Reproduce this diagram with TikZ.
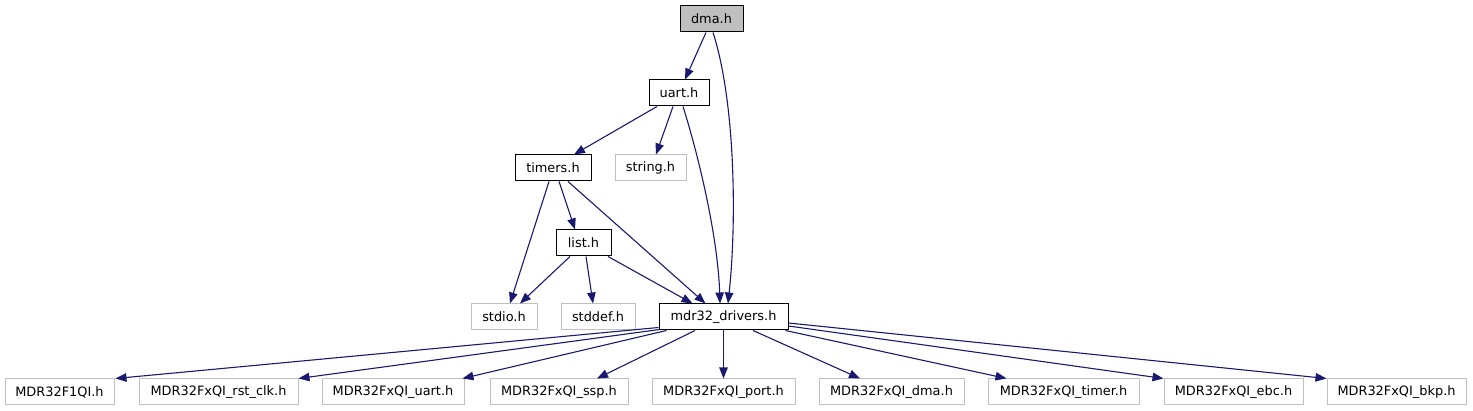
\documentclass[tikz,border=0pt]{standalone}
\usepackage{fontspec}
\setmainfont{DejaVu Sans}
\usetikzlibrary{calc,arrows.meta}
\definecolor{edgeblue}{RGB}{25,25,112}
\definecolor{lightbord}{RGB}{191,191,191}
\definecolor{selfill}{RGB}{191,191,191}
\begin{document}
\begin{tikzpicture}[x=1pt,y=-1pt,
  box/.style={draw=black,line width=1pt,minimum height=26pt,inner sep=0pt,font=\fontsize{12.9}{15}\selectfont,text=black},
  doc/.style={box},
  ext/.style={box,draw=lightbord},
  e/.style={draw=edgeblue,line width=1.1pt,-{Triangle[length=11pt,width=8.5pt]}}]
\useasboundingbox (0,0) rectangle (1473,411);
\node[doc,fill=selfill,minimum width=63pt] (dma) at (711.5,19) {dma.h};
\node[doc,minimum width=60pt] (uart) at (679,93) {uart.h};
\node[doc,minimum width=76pt] (timers) at (553,168) {timers.h};
\node[ext,minimum width=71pt] (string) at (650.5,168) {string.h};
\node[doc,minimum width=55pt] (list) at (583.5,243) {list.h};
\node[ext,minimum width=66pt] (stdio) at (504,317) {stdio.h};
\node[ext,minimum width=74pt] (stddef) at (598,317) {stddef.h};
\node[doc,minimum width=129pt] (mdr) at (723.5,317) {mdr32\_drivers.h};
\node[ext,minimum width=109pt] (f1) at (59.5,392) {MDR32F1QI.h};
\node[ext,minimum width=159pt] (rst) at (218.5,392) {MDR32FxQI\_rst\_clk.h};
\node[ext,minimum width=142pt] (uartq) at (393,392) {MDR32FxQI\_uart.h};
\node[ext,minimum width=138pt] (ssp) at (559,392) {MDR32FxQI\_ssp.h};
\node[ext,minimum width=143pt] (port) at (723.5,392) {MDR32FxQI\_port.h};
\node[ext,minimum width=145pt] (dmaq) at (891.5,392) {MDR32FxQI\_dma.h};
\node[ext,minimum width=151pt] (timer) at (1063.5,392) {MDR32FxQI\_timer.h};
\node[ext,minimum width=139pt] (ebc) at (1233.5,392) {MDR32FxQI\_ebc.h};
\node[ext,minimum width=139pt] (bkp) at (1396.5,392) {MDR32FxQI\_bkp.h};
% top part
\draw[e] ($(dma.south)+(-5.5,0)$) -- ($(uart.north)+(6,0)$);
\draw[e] ($(dma.south)+(1.5,0)$) .. controls ($(dma.south)+(23.5,68)$) and ($(mdr.north)+(13.5,-84)$) .. ($(mdr.north)+(4.5,0)$);
\draw[e] ($(uart.south)+(-22,0)$) -- ($(timers.north)+(21,0)$);
\draw[e] ($(uart.south)+(-6,0)$) -- ($(string.north)+(5.5,0)$);
\draw[e] ($(uart.south)+(4,0)$) .. controls ($(uart.south)+(21,54)$) and ($(mdr.north)+(-5.5,-64)$) .. ($(mdr.north)+(-3.5,0)$);
\draw[e] ($(timers.south)+(-4,0)$) -- ($(stdio.north)+(6,0)$);
\draw[e] ($(timers.south)+(6,0)$) -- ($(list.north)+(-8.5,0)$);
\draw[e] ($(timers.south)+(15,0)$) -- ($(mdr.north)+(-18,0)$);
\draw[e] ($(list.south)+(-13.5,0)$) -- ($(stdio.north)+(16,0)$);
\draw[e] ($(list.south)+(2.5,0)$) -- ($(stddef.north)+(-5,0)$);
\draw[e] ($(list.south)+(24.5,0)$) -- ($(mdr.north)+(-31,0)$);
% bottom fan
\draw[e] ($(mdr.south west)+(0,-3)$) -- ($(f1.north east)+(1,0)$);
\draw[e] ($(mdr.south west)+(1,-1)$) -- ($(rst.north east)+(0,0)$);
\draw[e] ($(mdr.south west)+(8,0)$) -- ($(uartq.north east)+(-2,0)$);
\draw[e] ($(mdr.south)+(-28.5,0)$) -- ($(ssp.north)+(38,0)$);
\draw[e] (mdr.south) -- (port.north);
\draw[e] ($(mdr.south)+(29.5,0)$) -- ($(dmaq.north)+(-31.5,0)$);
\draw[e] ($(mdr.south east)+(-3,0)$) -- ($(timer.north west)+(19,0)$);
\draw[e] ($(mdr.east)+(0,9)$) -- ($(ebc.north west)+(0,0)$);
\draw[e] ($(mdr.east)+(0,6)$) -- ($(bkp.north west)+(0,0)$);
\end{tikzpicture}
\end{document}
